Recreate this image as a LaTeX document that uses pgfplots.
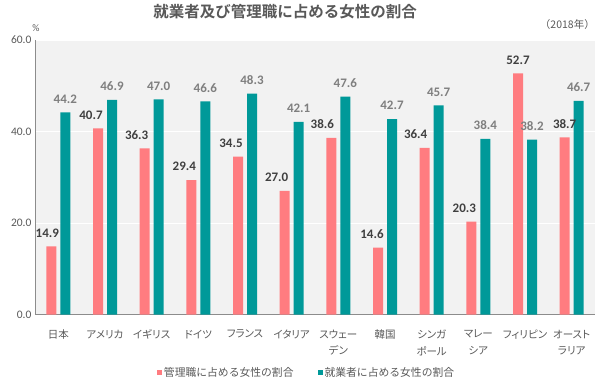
\documentclass[border=0pt]{standalone}
\usepackage{fontspec}
\setmainfont{Carlito}
\newfontfamily\jp[BoldFont={* Bold}]{Noto Sans CJK JP}
\newfontfamily\jpp[RawFeature=+palt]{Noto Sans CJK JP}
\usepackage{pgfplots}
\pgfplotsset{compat=1.18}
\usepackage{pgfplotstable}
\definecolor{pinkc}{HTML}{FF7C80}
\definecolor{tealc}{HTML}{009999}
\definecolor{txt}{HTML}{595959}
\definecolor{lblA}{HTML}{404040}
\definecolor{lblB}{HTML}{7F7F7F}
\definecolor{bg}{HTML}{F2F2F2}
\definecolor{axl}{HTML}{8C8C8C}

\pgfplotstableread{
x pink teal dx
0 14.9 44.2 -11
1 40.7 46.9 -14
2 36.3 47.0 -15
3 29.4 46.6 -14
4 34.5 48.3 -14
5 27.0 42.1 -15
6 38.6 47.6 -16
7 14.6 42.7 -13
8 36.4 45.7 -16
9 20.3 38.4 -14
10 52.7 38.2 -7
11 38.7 46.7 -7
}\datatable

\begin{document}
\begin{tikzpicture}
\useasboundingbox (0,0) rectangle (600pt,384pt);
\begin{axis}[
  at={(35pt,69.5pt)}, anchor=south west,
  scale only axis, width=560pt, height=274.5pt,
  xmin=-0.5, xmax=11.5, ymin=0, ymax=60,
  axis background/.style={fill=bg},
  axis x line*=bottom, axis y line*=left,
  axis line style={-, draw=axl, line width=0.8pt},
  ymajorgrids, grid style={white, line width=0.8pt},
  ytick={0,20,40,60},
  xtick={0,...,11},
  xticklabels={日本, アメリカ, イギリス, ドイツ, フランス, イタリア, スウェー\\デン, 韓国, シンガ\\ポール, マレー\\シア, フィリピン, オースト\\ラリア},
  xticklabel style={align=center, font=\jpp\fontsize{10.5}{16.5}\selectfont, text=txt, yshift=-12pt},
  yticklabel style={font=\fontsize{11.5}{13}\selectfont, text=txt, /pgf/number format/fixed, /pgf/number format/zerofill, /pgf/number format/precision=1, /pgf/number format/assume math mode=true},
  major tick length=0pt,
  tick align=outside,
  xtick pos=bottom, ytick pos=left,
  legend style={at={(0.485,-0.213)}, anchor=center, draw=none, fill=none, legend columns=2, font=\jp\fontsize{10.8}{13}\selectfont, text=txt, /tikz/every even column/.append style={column sep=22pt}},
  clip=false,
]
\addplot[ybar, fill=pinkc, draw=none, bar width=10pt, bar shift=-7pt,
  visualization depends on={\thisrow{dx} \as \dx},
  nodes near coords,
  every node near coord/.append style={font=\bfseries\fontsize{13}{15}\selectfont, text=lblA, anchor=south, inner sep=0pt, yshift=9pt, xshift=\dx, /pgf/number format/fixed, /pgf/number format/zerofill, /pgf/number format/precision=1, /pgf/number format/assume math mode=true},
  legend image code/.code={\fill[pinkc] (0pt,-2.5pt) rectangle (5pt,2.5pt);}
  ] table[x=x, y=pink]{\datatable};
\addlegendentry{管理職に占める女性の割合}
\addplot[ybar, fill=tealc, draw=none, bar width=10pt, bar shift=7pt,
  nodes near coords,
  every node near coord/.append style={font=\bfseries\fontsize{13}{15}\selectfont, text=lblB, anchor=south, inner sep=0pt, yshift=9pt, xshift=7pt, /pgf/number format/fixed, /pgf/number format/zerofill, /pgf/number format/precision=1, /pgf/number format/assume math mode=true},
  legend image code/.code={\fill[tealc] (0pt,-2.5pt) rectangle (5pt,2.5pt);}
  ] table[x=x, y=teal]{\datatable};
\addlegendentry{就業者に占める女性の割合}
\end{axis}
\node[text=txt, anchor=center] at (285pt,372pt) {\jp\bfseries\fontsize{15.5}{18}\selectfont 就業者及び管理職に占める女性の割合};
\node[text=txt, anchor=center, inner sep=0pt] at (36pt,356pt) {\fontsize{10}{12}\selectfont\%};
\node[text=txt, anchor=east, inner sep=0pt] at (595pt,359pt) {\jp\fontsize{10.5}{12}\selectfont （2018年）};
\end{tikzpicture}
\end{document}
